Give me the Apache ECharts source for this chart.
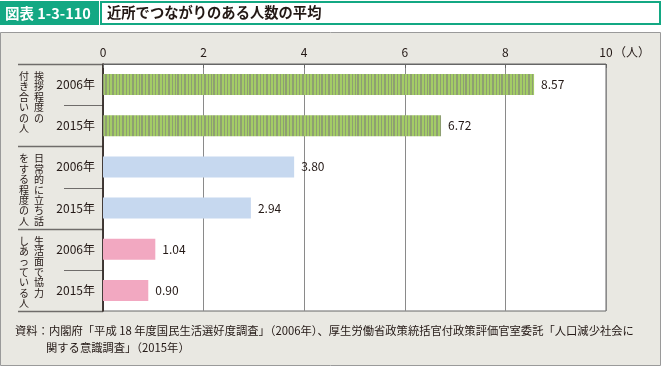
<!DOCTYPE html>
<html>
<head>
<meta charset="utf-8">
<script src="https://cdn.jsdelivr.net/npm/echarts@6/dist/echarts.min.js"></script>
<style>
html,body{margin:0;padding:0;background:#fff;}
#main{width:662px;height:366px;}
</style>
</head>
<body>
<div id="main"></div>
<script>
// ---- data ----
var figureNo = '図表 1-3-110';
var titleText = '近所でつながりのある人数の平均';
var categories = ['2006年', '2015年', '2006年', '2015年', '2006年', '2015年'];
var values = [8.57, 6.72, 3.80, 2.94, 1.04, 0.90];
var groupLabels = [
  ['挨拶程度の', '付き合いの人'],
  ['日常的に立ち話', 'をする程度の人'],
  ['生活面で協力', 'しあっている人']
];
var xTicks = [0, 2, 4, 6, 8, 10];
var unitLabel = '（人）';
var sourceLines = [
  '資料：内閣府「平成 18 年度国民生活選好度調査」（2006年）、厚生労働省政策統括官付政策評価官室委託「人口減少社会に',
  '関する意識調査」（2015年）'
];

// ---- styles ----
var FONT = '"Noto Sans CJK JP", "Noto Sans", sans-serif';
var TXT = '#231815';
var G = {left: 103, right: 56, top: 64, bottom: 55};
var W = 662, H = 366;
var plotTop = G.top, plotBottom = H - G.bottom, plotLeft = G.left;
var rowH = (plotBottom - plotTop) / categories.length;

// striped green pattern (as data URL)
function makePattern() {
  var c = document.createElement('canvas');
  c.width = 36; c.height = 4;
  var ctx = c.getContext('2d');
  ctx.fillStyle = '#a3cc66';
  ctx.fillRect(0, 0, 36, 4);
  ctx.fillStyle = '#8e9f72';
  var stripes = [[1,1],[4,2],[8,1],[11,1],[14,2],[18,1],[21,1],[24,2],[28,1],[31,1],[33,2]];
  stripes.forEach(function (s) { ctx.fillRect(s[0], 0, s[1], 4); });
  return c.toDataURL();
}
var patternURL = makePattern();
var colors = ['green', 'green', '#c6d8ef', '#c6d8ef', '#f2a8c1', '#f2a8c1'];

var chart = echarts.init(document.getElementById('main'), null, {renderer: 'canvas'});

var graphics = [];
graphics.push({type: 'rect', z: -10, shape: {x: 0.5, y: 32.5, width: 660, height: 333},
  style: {fill: '#e9e8e2', stroke: '#9a9a9a', lineWidth: 1}});
graphics.push({type: 'rect', shape: {x: 0, y: 1, width: 99, height: 24}, style: {fill: '#13a883'}});
graphics.push({type: 'rect', shape: {x: 101, y: 2, width: 559, height: 22},
  style: {fill: '#fff', stroke: '#13a883', lineWidth: 2}});
graphics.push({type: 'text', x: 5, y: 13, style: {text: figureNo, fill: '#fff',
  font: 'bold 14.5px ' + FONT, verticalAlign: 'middle'}});
graphics.push({type: 'text', x: 107, y: 13, style: {text: titleText, fill: TXT,
  font: 'bold 14.3px ' + FONT, verticalAlign: 'middle'}});
graphics.push({type: 'text', x: 614, y: 52, style: {text: unitLabel, fill: TXT,
  font: '12px ' + FONT, verticalAlign: 'middle'}});
for (var g = 0; g <= groupLabels.length; g++) {
  var lineY = Math.round(plotTop + g * 2 * rowH) + 0.5;
  graphics.push({type: 'line', shape: {x1: 18, y1: lineY, x2: plotLeft, y2: lineY},
    style: {stroke: '#6f6c6a', lineWidth: 1.5}});
}
for (var g2 = 0; g2 < groupLabels.length; g2++) {
  var sepY = Math.round(plotTop + (g2 * 2 + 1) * rowH) + 0.5;
  graphics.push({type: 'line', shape: {x1: 64, y1: sepY, x2: plotLeft, y2: sepY},
    style: {stroke: '#6f6c6a', lineWidth: 1.2}});
  var labelTop = plotTop + g2 * 2 * rowH + 7;
  var colX = [39, 24];
  for (var k = 0; k < groupLabels[g2].length; k++) {
    graphics.push({type: 'text', x: colX[k], y: labelTop, style: {
      text: groupLabels[g2][k].split('').join('\n'), fill: TXT, font: '10px ' + FONT,
      lineHeight: 10.4, align: 'center', verticalAlign: 'top'}});
  }
}
graphics.push({type: 'text', x: 15, y: 331, style: {text: sourceLines[0], fill: TXT,
  font: '11.3px ' + FONT, verticalAlign: 'middle'}});
graphics.push({type: 'text', x: 46, y: 348, style: {text: sourceLines[1], fill: TXT,
  font: '11.3px ' + FONT, verticalAlign: 'middle'}});

function barColor(i) {
  return colors[i] === 'green' ? {image: patternURL, repeat: 'repeat'} : colors[i];
}

chart.setOption({
  animation: false,
  backgroundColor: '#fff',
  textStyle: {fontFamily: FONT},
  graphic: {elements: graphics},
  grid: {left: G.left, right: G.right, top: G.top, bottom: G.bottom, show: true,
    backgroundColor: '#fff', borderColor: '#666', borderWidth: 1},
  xAxis: {
    type: 'value', position: 'top', min: xTicks[0], max: xTicks[xTicks.length - 1], interval: 2,
    axisLine: {show: true, lineStyle: {color: '#666', width: 1}},
    axisTick: {show: true, inside: true, length: 4, lineStyle: {color: '#666'}},
    axisLabel: {color: TXT, fontSize: 12, margin: 6, fontFamily: FONT},
    splitLine: {show: true, lineStyle: {color: '#8a8a8a', width: 1}}
  },
  yAxis: {
    type: 'category', inverse: true, data: categories,
    axisLine: {show: true, lineStyle: {color: '#231815', width: 1.5}},
    axisTick: {show: false},
    axisLabel: {color: TXT, fontSize: 12, margin: 8, fontFamily: FONT}
  },
  series: [{
    type: 'bar', barWidth: 21,
    data: values.map(function (v, i) { return {value: v, itemStyle: {color: barColor(i)}}; }),
    label: {show: true, position: 'right', distance: 7, color: TXT, fontSize: 12, fontFamily: FONT,
      formatter: function (p) { return p.value.toFixed(2); }}
  }]
});
</script>
</body>
</html>
